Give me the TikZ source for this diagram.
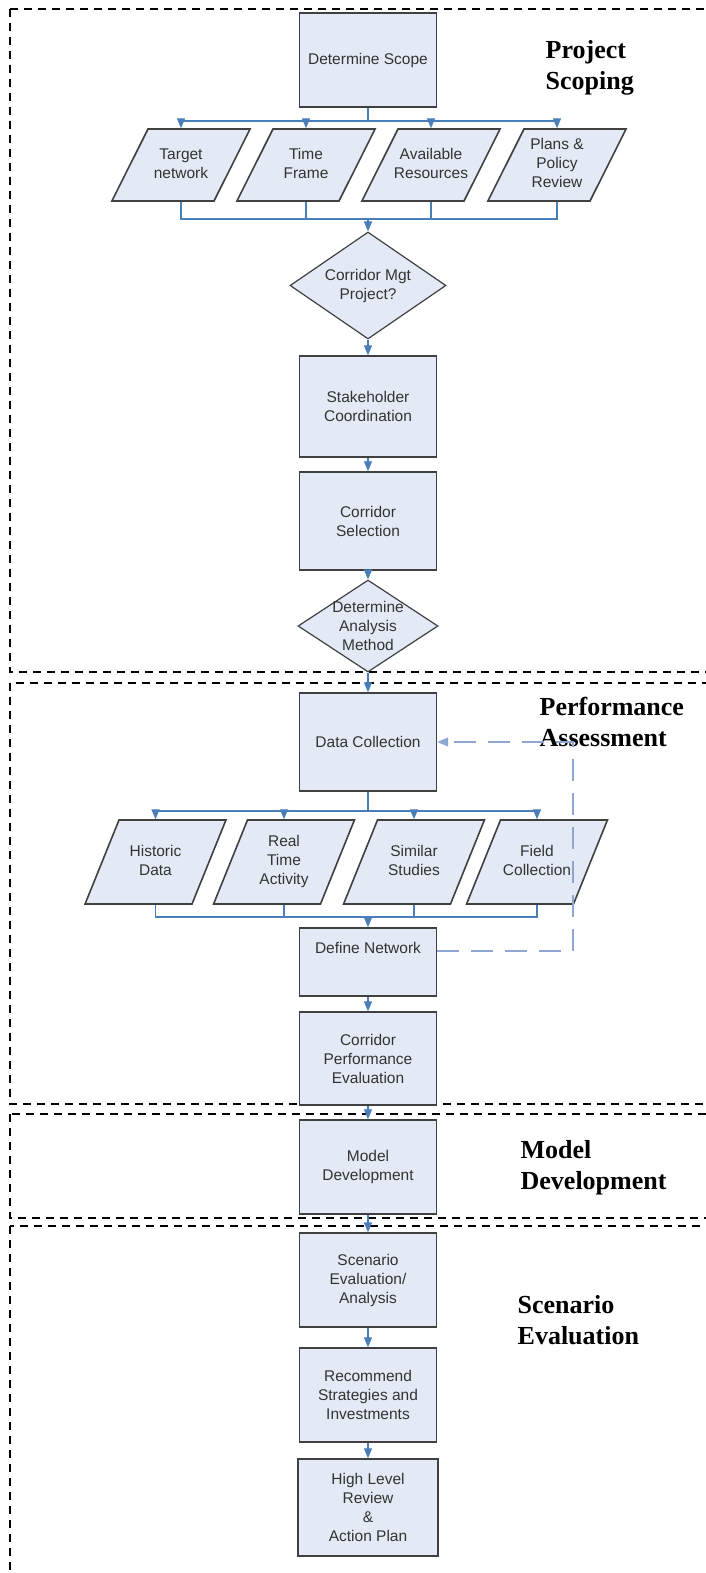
\documentclass[tikz,border=0pt]{standalone}
\usepackage{fontspec}
\setmainfont{Liberation Serif}
\setsansfont{Liberation Sans}
\usetikzlibrary{shapes.geometric,arrows}

\definecolor{boxfill}{RGB}{228,234,245}
\definecolor{boxline}{RGB}{64,64,64}
\definecolor{flowblue}{RGB}{74,126,187}
\definecolor{loopblue}{RGB}{143,166,208}

% centred lines in a body of fixed width and height (lines may run over)
\newcommand{\inputbox}[3]{\makebox[#1]{$\vcenter{\hrule height #2 width 0pt}$%
  \begin{tabular}{@{}c@{}}#3\end{tabular}}}

\begin{document}
\begin{tikzpicture}
[x=1pt,y=-1pt,->,>=triangle 45,line width=1.3pt,draw=flowblue]

  \tikzstyle{every node}=[text=black!80,font=\sffamily\fontsize{15.5}{19}\selectfont]
  \tikzstyle{task}=[rectangle,draw=boxline,line width=1.6pt,fill=boxfill,align=center,
    minimum width=137pt,minimum height=94pt,inner sep=2pt]
  \tikzstyle{input}=[trapezium,trapezium left angle=63.4,trapezium right angle=116.6,
    draw=boxline,line width=1.6pt,fill=boxfill,inner sep=0pt]
  \tikzstyle{decision}=[diamond,draw=boxline,line width=1.2pt,fill=boxfill,
    minimum width=156pt,minimum height=107pt,inner sep=0pt]
  \tikzstyle{phase}=[anchor=north west,inner sep=0pt,align=left,text=black,
    font=\rmfamily\bfseries\fontsize{26}{31}\selectfont]
  \tikzstyle{frame}=[-,draw=black,dash pattern=on 8pt off 6pt,line width=1.5pt]
  \tikzstyle{back}=[draw=loopblue,dash pattern=on 22pt off 12pt,line width=1.5pt]

  \useasboundingbox (0,0) rectangle (706,1573);

  % phase frames
  \draw[frame] (10,9) rectangle (730,672);
  \draw[frame] (10,683) rectangle (730,1104);
  \draw[frame] (10,1114) rectangle (730,1218);
  \draw[frame] (10,1226) rectangle (730,1600);

  \node[phase] (scoping) at (545,40)     {Project\\Scoping};
  \node[phase] (assess)  at (539,697)    {Performance\\Assessment};
  \node[phase] (model)   at (520,1140)   {Model\\Development};
  \node[phase] (scen)    at (517,1295)   {Scenario\\Evaluation};

  % project scoping
  \node[task] (scope) at (368,60) {Determine Scope};
  \coordinate (fork1) at (368,121);
  \node[input] (tn) at (181,165) {\inputbox{66pt}{72pt}{Target\\network}};
  \node[input] (tf) at (306,165) {\inputbox{66pt}{72pt}{Time\\Frame}};
  \node[input] (ar) at (431,165) {\inputbox{66pt}{72pt}{Available\\Resources}};
  \node[input] (pp) at (557,165) {\inputbox{66pt}{72pt}{Plans \&\\Policy\\Review}};
  \coordinate (join1) at (368,219);
  \node[decision,label={[align=center]center:Corridor Mgt\\Project?}]
    (mgt) at (368,285.5) {};
  \node[task,minimum height=101pt] (stake) at (368,406.5) {Stakeholder\\Coordination};
  \node[task,minimum height=98pt]  (sel)   at (368,521)   {Corridor\\Selection};
  \node[decision,minimum width=140pt,minimum height=92pt,
    label={[align=center]center:Determine\\Analysis\\Method}] (method) at (368,626) {};

  % performance assessment
  \node[task,minimum height=98pt] (coll) at (368,742) {Data Collection};
  \coordinate (fork2) at (368,811);
  \tikzstyle{input}+=[trapezium left angle=68,trapezium right angle=112]
  \node[input] (hist)  at (155.5,862) {\inputbox{73pt}{84pt}{Historic\\Data}};
  \node[input] (real)  at (284,862)   {\inputbox{73pt}{84pt}{Real\\Time\\Activity}};
  \node[input] (simil) at (414,862)   {\inputbox{73pt}{84pt}{Similar\\Studies}};
  \node[input] (field) at (537,862)   {\inputbox{73pt}{84pt}{Field\\Collection}};
  \coordinate (join2) at (368,917);
  \node[task,minimum height=68pt,text height=19.5pt,text depth=36.5pt,inner ysep=6pt]
    (net) at (368,962) {Define Network};
  \node[task,minimum height=93pt] (eval) at (368,1058.5)
    {Corridor\\Performance\\Evaluation};

  % model development and scenarios
  \node[task] (dev) at (368,1167) {Model\\Development};
  \node[task] (scenario) at (368,1280) {Scenario\\Evaluation/\\Analysis};
  \node[task] (recom) at (368,1395) {Recommend\\Strategies and\\Investments};
  \node[task,minimum width=140pt,minimum height=97pt] (review) at (368,1507.5)
    {High Level\\Review\\\&\\Action Plan};

  % connectors
  \draw[-] (scope) -- (fork1);
  \foreach \n in {tn,tf,ar,pp} \draw (fork1) -| (\n);
  \foreach \n in {tn,tf,ar,pp} \draw[-] (\n) |- (join1);
  \draw (join1) -- (mgt);
  \draw (mgt) -- (stake);
  \draw (stake) -- (sel);
  \draw (sel) -- (method);
  \draw (method) -- (coll);

  \draw[-] (coll) -- (fork2);
  \foreach \n in {hist,real,simil,field} \draw (fork2) -| (\n);
  \foreach \n in {hist,real,simil,field} \draw[-] (\n) |- (join2);
  \draw (join2) -- (net);
  \draw (net) -- (eval);
  \draw (eval) -- (dev);
  \draw (dev) -- (scenario);
  \draw (scenario) -- (recom);
  \draw (recom) -- (review);

  % network definition feeds back to data collection
  \coordinate (loop) at (573,0);
  \draw[back] (net.mid east) -| (loop |- coll.east) -- (coll.east);
\end{tikzpicture}
\end{document}
